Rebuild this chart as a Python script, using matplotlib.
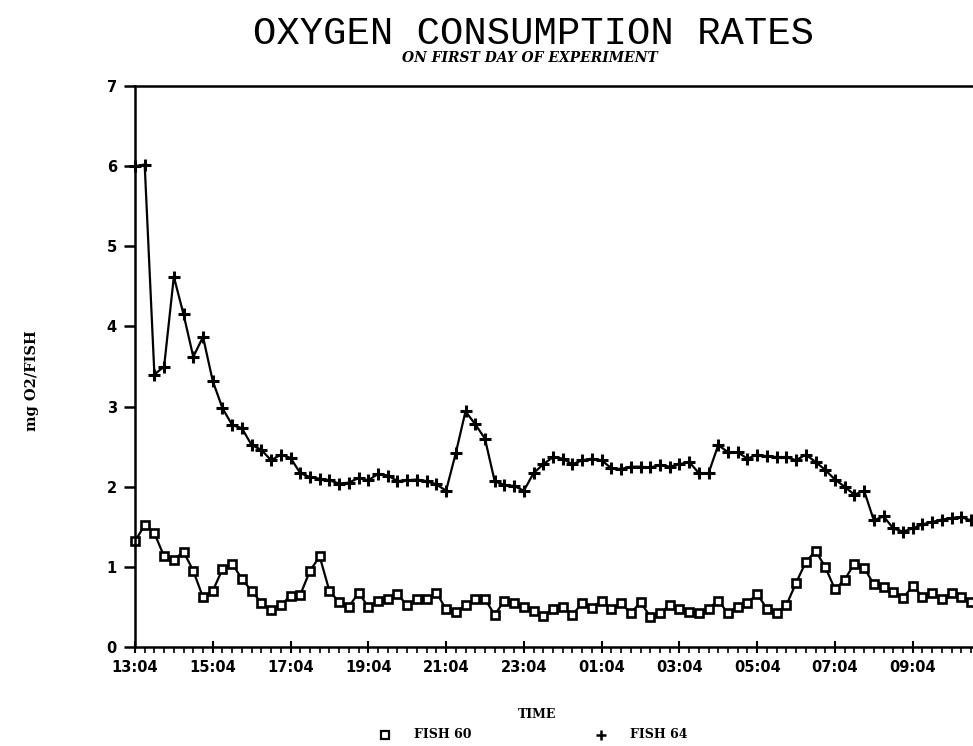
#!/usr/bin/env python3
"""Oxygen consumption rates on first day of experiment (fish 60 vs fish 64)."""

import matplotlib
matplotlib.use("Agg")
import matplotlib.pyplot as plt
from matplotlib.ticker import MultipleLocator
import numpy as np

# readings every 15 minutes starting 13:04
STEP_HOURS = 0.25
TICK_LABELS = ["13:04", "15:04", "17:04", "19:04", "21:04", "23:04",
               "01:04", "03:04", "05:04", "07:04", "09:04"]

fish_60 = [1.32, 1.52, 1.42, 1.13, 1.09, 1.19, 0.95, 0.62, 0.70, 0.97,
           1.04, 0.85, 0.70, 0.55, 0.46, 0.52, 0.64, 0.65, 0.95, 1.13,
           0.70, 0.56, 0.50, 0.68, 0.50, 0.58, 0.60, 0.66, 0.52, 0.60,
           0.60, 0.68, 0.47, 0.44, 0.52, 0.60, 0.60, 0.40, 0.58, 0.55,
           0.50, 0.45, 0.39, 0.48, 0.50, 0.40, 0.55, 0.49, 0.58, 0.48,
           0.55, 0.42, 0.56, 0.38, 0.42, 0.52, 0.48, 0.44, 0.42, 0.48,
           0.58, 0.42, 0.50, 0.55, 0.66, 0.48, 0.43, 0.52, 0.80, 1.06,
           1.20, 1.00, 0.72, 0.84, 1.04, 0.99, 0.78, 0.75, 0.69, 0.61,
           0.76, 0.63, 0.67, 0.60, 0.67, 0.63, 0.56]

fish_64 = [6.00, 6.02, 3.40, 3.50, 4.62, 4.15, 3.62, 3.87, 3.32, 2.98,
           2.77, 2.73, 2.52, 2.46, 2.33, 2.40, 2.36, 2.17, 2.12, 2.10,
           2.08, 2.04, 2.05, 2.11, 2.08, 2.16, 2.14, 2.07, 2.08, 2.09,
           2.07, 2.03, 1.95, 2.42, 2.94, 2.78, 2.60, 2.07, 2.02, 2.01,
           1.95, 2.17, 2.28, 2.37, 2.35, 2.28, 2.33, 2.35, 2.33, 2.23,
           2.22, 2.25, 2.25, 2.24, 2.27, 2.25, 2.28, 2.31, 2.17, 2.17,
           2.52, 2.43, 2.43, 2.35, 2.40, 2.38, 2.37, 2.37, 2.33, 2.40,
           2.31, 2.21, 2.09, 2.00, 1.90, 1.95, 1.58, 1.63, 1.48, 1.44,
           1.48, 1.53, 1.56, 1.59, 1.61, 1.62, 1.58]


def main():
    fig = plt.figure(figsize=(9.73, 7.46), dpi=100)
    ax = fig.add_axes([0.1387, 0.1327, 0.8613, 0.752])

    t60 = np.arange(len(fish_60)) * STEP_HOURS
    t64 = np.arange(len(fish_64)) * STEP_HOURS

    ax.plot(t60, fish_60, color="black", linewidth=1.6, marker="s",
            markersize=6.3, markerfacecolor="white", markeredgecolor="black",
            markeredgewidth=1.9, clip_on=False)
    ax.plot(t64, fish_64, color="black", linewidth=1.6, marker="+",
            markersize=9, markeredgewidth=2.2, clip_on=False)

    ax.set_xlim(0, 21.55)
    ax.set_ylim(0, 7)
    ax.set_xticks(np.arange(len(TICK_LABELS)) * 2)
    ax.set_xticklabels(TICK_LABELS)
    ax.xaxis.set_minor_locator(MultipleLocator(STEP_HOURS))
    ax.set_yticks(range(8))

    for side in ("left", "bottom", "top"):
        ax.spines[side].set_linewidth(1.8)
    ax.spines["right"].set_visible(False)

    ax.tick_params(axis="y", direction="out", length=8, width=1.8, pad=5,
                   labelsize=10.5)
    ax.tick_params(axis="x", which="major", direction="inout", length=9,
                   width=1.5, pad=5, labelsize=10.5)
    ax.tick_params(axis="x", which="minor", direction="out", length=4,
                   width=1.2)
    for lbl in ax.get_xticklabels() + ax.get_yticklabels():
        lbl.set_fontweight("bold")

    fig.text(0.548, 0.955, "OXYGEN CONSUMPTION RATES", ha="center",
             va="center", fontsize=28, family="Liberation Mono")
    fig.text(0.545, 0.922, "ON FIRST DAY OF EXPERIMENT", ha="center",
             va="center", fontsize=10, fontweight="bold", style="italic",
             family="DejaVu Serif")
    fig.text(0.033, 0.49, "mg O2/FISH", rotation=90, ha="center",
             va="center", fontsize=10.5, fontweight="bold", family="DejaVu Serif")
    fig.text(0.552, 0.042, "TIME", ha="center", va="center", fontsize=9,
             fontweight="bold", family="DejaVu Serif")

    # legend row below the axis title
    fig.lines.append(plt.Line2D([0.396], [0.015], marker="s", markersize=6,
                                markerfacecolor="white", markeredgecolor="black",
                                markeredgewidth=1.6, transform=fig.transFigure))
    fig.text(0.425, 0.015, "FISH 60", ha="left", va="center", fontsize=9,
             fontweight="bold", family="DejaVu Serif")
    fig.lines.append(plt.Line2D([0.618], [0.015], marker="+", markersize=7,
                                color="black", markeredgewidth=1.8,
                                transform=fig.transFigure))
    fig.text(0.647, 0.015, "FISH 64", ha="left", va="center", fontsize=9,
             fontweight="bold", family="DejaVu Serif")

    fig.savefig("out.png", dpi=100)
    return 0


if __name__ == "__main__":
    raise SystemExit(main())
